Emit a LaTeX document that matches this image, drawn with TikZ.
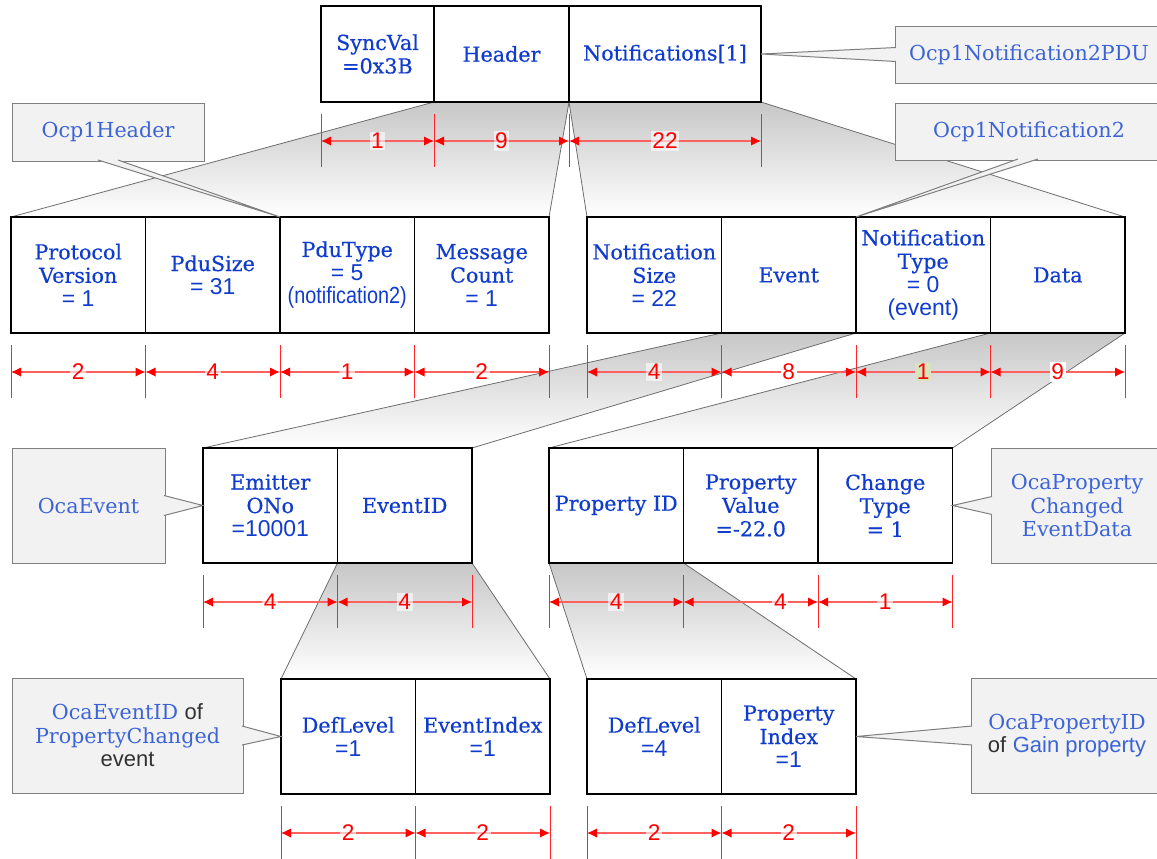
\documentclass[tikz,border=0pt]{standalone}
\usepackage{fontspec}
\setmainfont{DejaVu Serif}
\newfontfamily\boxserif[FakeBold=0.5]{DejaVu Serif}
\newfontfamily\sansf{Liberation Sans}
\newfontfamily\narrowf[FakeStretch=0.85]{Liberation Sans}
\usetikzlibrary{arrows.meta,calc}
\definecolor{fieldblue}{RGB}{16,60,205}
\definecolor{callblue}{RGB}{60,100,215}
\definecolor{callfill}{RGB}{242,242,242}
\definecolor{callborder}{RGB}{127,127,127}
\definecolor{projgray}{RGB}{110,110,110}
\definecolor{dimred}{RGB}{255,0,0}
\definecolor{hilite}{RGB}{215,228,188}
\definecolor{txtgray}{RGB}{50,50,50}
\newcommand\snum[1]{{\sansf\fontsize{17.2}{17.6}\selectfont #1}}
\newcommand\nrw[1]{{\narrowf\fontsize{17.5}{17.6}\selectfont #1}}
\newcommand\gsans[1]{{\sansf\fontsize{16.5}{17.6}\selectfont\color{txtgray}#1}}
\newcommand\bsans[1]{{\sansf\fontsize{16.5}{17.6}\selectfont\color{callblue}#1}}
\newcommand\dimseg[4]{%
  \draw[dimtick] ($(#1.south west)+(0,12)$) -- ($(#1.south west)+(0,65)$);
  \draw[dimtick] ($(#1.south east)+(0,12)$) -- ($(#1.south east)+(0,65)$);
  \draw[dimarrow] ($(#1.south west)+(0,39)$) -- node[dimlabel,pos=#3,#4]{#2} ($(#1.south east)+(0,39)$);
}
\newcommand\callwedge[3]{%
  \fill[callfill] #1 -- #3 -- #2 -- cycle;
  \draw[callline] #1 -- #3 -- #2;
}
\pgfdeclarelayer{bgw}
\pgfdeclarelayer{bg}
\pgfsetlayers{bgw,bg,main}
\begin{document}
\begin{tikzpicture}[x=0.75pt,y=-0.75pt,
 fld/.style={draw=black, fill=white, line width=1.1pt, outer sep=0pt, inner sep=1pt, align=center, text=fieldblue, font=\boxserif\fontsize{15.5}{17.6}\selectfont, minimum width=100.875pt, minimum height=86.25pt, anchor=west},
 callbox/.style={draw=callborder, fill=callfill, line width=0.75pt, outer sep=0pt, align=center, text=callblue, font=\fontsize{15.5}{17.6}\selectfont},
 callline/.style={draw=callborder, line width=0.75pt},
 projline/.style={draw=projgray, line width=0.6pt},
 dimtick/.style={draw=dimred!85, line width=0.6pt},
 dimarrow/.style={draw=dimred!62, line width=0.8pt, <->, >={Latex[length=7.5pt,width=7pt,color=dimred]}},
 dimlabel/.style={fill=white, fill opacity=0.6, text opacity=1, inner sep=1.2pt, text=dimred, font=\sansf\fontsize{17}{18}\selectfont},
 shadeproj/.style={top color=black!22, bottom color=white}
]
\useasboundingbox (0,0) rectangle (1157,858);
\clip (0,0) rectangle (1157,858);
\begin{pgfonlayer}{bgw}
\fill[white] (0,0) rectangle (1157,858);
\end{pgfonlayer}

% ---- row 0
\node[fld, minimum width=84.75pt, minimum height=72pt] (sync) at (321,54) {SyncVal\\=0x3B};
\node[fld, minimum width=101.25pt, minimum height=72pt] (hdr) at (sync.east) {Header};
\node[fld, minimum width=144pt, minimum height=72pt] (notif) at (hdr.east) {Notifications[1]};

% ---- row 1
\node[fld, minimum height=87pt] (pv) at (11,275) {Protocol\\Version\\\snum{= 1}};
\node[fld, minimum height=87pt] (ps) at (pv.east) {PduSize\\\snum{= 31}};
\node[fld, minimum height=87pt] (pt) at (ps.east) {PduType\\\snum{= 5}\\\nrw{(notification2)}};
\node[fld, minimum height=87pt] (mc) at (pt.east) {Message\\Count\\\snum{= 1}};
\node[fld, minimum height=87pt] (ns) at (587,275) {Notification\\Size\\\snum{= 22}};
\node[fld, minimum height=87pt] (ev) at (ns.east) {Event};
\node[fld, minimum height=87pt] (nt) at (ev.east) {Notification\\Type\\\snum{= 0}\\\snum{(event)}};
\node[fld, minimum height=87pt] (da) at (nt.east) {Data};

% ---- row 2
\node[fld] (em) at (203,505.5) {Emitter\\ONo\\\snum{=10001}};
\node[fld] (eid) at (em.east) {EventID};
\node[fld] (pid) at (549,505.5) {Property ID};
\node[fld] (pval) at (pid.east) {Property\\Value\\=-22.0};
\node[fld] (ct) at (pval.east) {Change\\Type\\= 1};

% ---- row 3
\node[fld] (dl1) at (281,736.5) {DefLevel\\\snum{=1}};
\node[fld] (ei) at (dl1.east) {EventIndex\\\snum{=1}};
\node[fld] (dl2) at (587,736.5) {DefLevel\\\snum{=4}};
\node[fld] (pi) at (dl2.east) {Property\\Index\\\snum{=1}};

% ---- projections and dimensions
\begin{pgfonlayer}{bg}
\shade[shadeproj] (hdr.south west) -- (hdr.south east) -- (mc.north east) -- (pv.north west) -- cycle;
\shade[shadeproj] (notif.south west) -- (notif.south east) -- (da.north east) -- (ns.north west) -- cycle;
\shade[shadeproj] (ev.south west) -- (ev.south east) -- (eid.north east) -- (em.north west) -- cycle;
\shade[shadeproj] (da.south west) -- (da.south east) -- (ct.north east) -- (pid.north west) -- cycle;
\shade[shadeproj] (eid.south west) -- (eid.south east) -- (ei.north east) -- (dl1.north west) -- cycle;
\shade[shadeproj] (pid.south west) -- (pid.south east) -- (pi.north east) -- (dl2.north west) -- cycle;
\draw[projline] (hdr.south west) -- (pv.north west);
\draw[projline] (hdr.south east) -- (mc.north east);
\draw[projline] (notif.south west) -- (ns.north west);
\draw[projline] (notif.south east) -- (da.north east);
\draw[projline] (ev.south west) -- (em.north west);
\draw[projline] (ev.south east) -- (eid.north east);
\draw[projline] (da.south west) -- (pid.north west);
\draw[projline] (da.south east) -- (ct.north east);
\draw[projline] (eid.south west) -- (dl1.north west);
\draw[projline] (eid.south east) -- (ei.north east);
\draw[projline] (pid.south west) -- (dl2.north west);
\draw[projline] (pid.south east) -- (pi.north east);

\dimseg{sync}{1}{0.5}{}
\dimseg{hdr}{9}{0.5}{}
\dimseg{notif}{22}{0.5}{}
\dimseg{pv}{2}{0.5}{}
\dimseg{ps}{4}{0.5}{}
\dimseg{pt}{1}{0.5}{}
\dimseg{mc}{2}{0.5}{}
\dimseg{ns}{4}{0.5}{}
\dimseg{ev}{8}{0.5}{fill opacity=1}
\dimseg{nt}{1}{0.5}{fill=hilite, fill opacity=1}
\dimseg{da}{9}{0.5}{fill opacity=1}
\dimseg{em}{4}{0.5}{}
\dimseg{eid}{4}{0.5}{}
\dimseg{pid}{4}{0.5}{}
\dimseg{pval}{4}{0.72}{}
\dimseg{ct}{1}{0.5}{}
\dimseg{dl1}{2}{0.5}{}
\dimseg{ei}{2}{0.5}{}
\dimseg{dl2}{2}{0.5}{}
\dimseg{pi}{2}{0.5}{}
\end{pgfonlayer}

% ---- callouts
\node[callbox, minimum width=201pt, minimum height=42.75pt] (cpdu) at (1029,54.5) {Ocp1Notification2PDU};
\callwedge{($(cpdu.west)+(1,-7)$)}{($(cpdu.west)+(1,7)$)}{(notif.east)}

\node[callbox, minimum width=144pt, minimum height=43.5pt] (chdr) at (108,132) {Ocp1Header};
\callwedge{($(chdr.south)+(-10,-1)$)}{($(chdr.south)+(10,-1)$)}{(ps.north east)}

\node[callbox, minimum width=201pt, minimum height=42.75pt] (cn2) at (1029,131.5) {Ocp1Notification2};
\callwedge{($(cn2.south)+(-11,-1)$)}{($(cn2.south)+(9,-1)$)}{(nt.north west)}

\node[callbox, minimum width=114.75pt, minimum height=86.25pt] (cev) at (88.5,505.5) {OcaEvent};
\callwedge{($(cev.east)+(-1,-10)$)}{($(cev.east)+(-1,10)$)}{(em.west)}

\node[callbox, minimum width=129pt, minimum height=86.25pt] (cpc) at (1077,505.5) {OcaProperty\\Changed\\EventData};
\callwedge{($(cpc.west)+(1,-9)$)}{($(cpc.west)+(1,9)$)}{(ct.east)}

\node[callbox, minimum width=173.25pt, minimum height=86.25pt] (ceid) at (127.5,735.5) {OcaEventID \gsans{of}\\PropertyChanged\\\gsans{event}};
\callwedge{($(ceid.east)+(-1,-9.5)$)}{($(ceid.east)+(-1,9.5)$)}{(dl1.west)}

\node[callbox, minimum width=144pt, minimum height=86.25pt] (cpid) at (1067,735.5) {OcaPropertyID\\\gsans{of} \bsans{Gain property}};
\callwedge{($(cpid.west)+(1,-9.5)$)}{($(cpid.west)+(1,9.5)$)}{(pi.east)}
\end{tikzpicture}
\end{document}
